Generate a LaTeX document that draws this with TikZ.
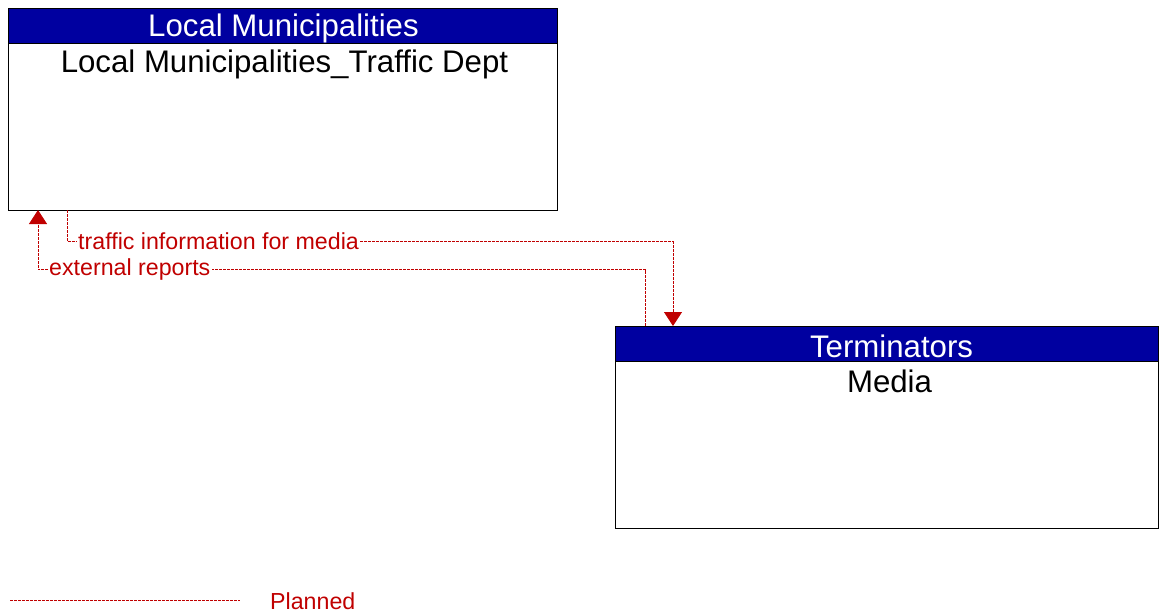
\documentclass[tikz,border=0pt]{standalone}
\usepackage{fontspec}
\setmainfont{Liberation Sans}
\usepackage{tikz}
\usetikzlibrary{positioning, arrows.meta}

\definecolor{hdrblue}{RGB}{0,0,160}
\definecolor{plannedred}{RGB}{192,0,0}

\tikzset{
    box/.style={draw=black, line width=0.9pt, inner sep=0pt},
    hdr/.style={fill=hdrblue, draw=black, line width=0.9pt, inner sep=0pt, text=white},
    flow/.style={draw=plannedred, line width=0.8pt, dash pattern=on 3pt off 1pt},
    flowlbl/.style={text=plannedred, inner sep=1pt, font=\fontsize{23.2}{26}\selectfont},
    tip/.style={-{Triangle[width=18pt,length=14pt]}}
}

\begin{document}
\begin{tikzpicture}[x=1pt, y=-1pt]
    \useasboundingbox (0,0) rectangle (1159,613);

    % Element boxes
    \node[box, minimum width=549pt, minimum height=202pt] (lm) at (282.5,109) {};
    \node[hdr, minimum width=549pt, minimum height=35pt] (lmhdr) at (282.5,25.5) {};
    \node[text=white] (lmtitle) at (283.5,28) {\fontsize{31.2}{36}\selectfont Local Municipalities};
    \node (lmname) at (284.5,64) {\fontsize{31.2}{36}\selectfont Local Municipalities\_Traffic Dept};

    \node[box, minimum width=543pt, minimum height=202pt] (media) at (886.5,427) {};
    \node[hdr, minimum width=543pt, minimum height=35pt] (mediahdr) at (886.5,343.5) {};
    \node[text=white] (mediatitle) at (891.5,346) {\fontsize{31.2}{36}\selectfont Terminators};
    \node (medianame) at (889.5,381) {\fontsize{31.2}{36}\selectfont Media};

    % Flow labels
    \node[flowlbl, anchor=west] (tim) at (77,241.5) {traffic information for media};
    \node[flowlbl, anchor=west] (ext) at (48,269.5) {external reports};

    % Flow end points
    \coordinate (tim-src) at (67,210);
    \coordinate (tim-dst) at (673,326);
    \coordinate (ext-src) at (645,326);
    \coordinate (ext-dst) at (38,210);

    % Flows
    \draw[flow] (tim-src) |- (tim.west);
    \draw[flow, tip] (tim.east) -| (tim-dst);
    \draw[flow] (ext-src) |- (ext.east);
    \draw[flow, tip] (ext.west) -| (ext-dst);

    % Legend
    \coordinate (leg-a) at (10,600);
    \coordinate (leg-b) at (240,600);
    \draw[flow] (leg-a) -- (leg-b);
    \node[flowlbl, anchor=west] (legend) at (269,601.5) {Planned};
\end{tikzpicture}
\end{document}
